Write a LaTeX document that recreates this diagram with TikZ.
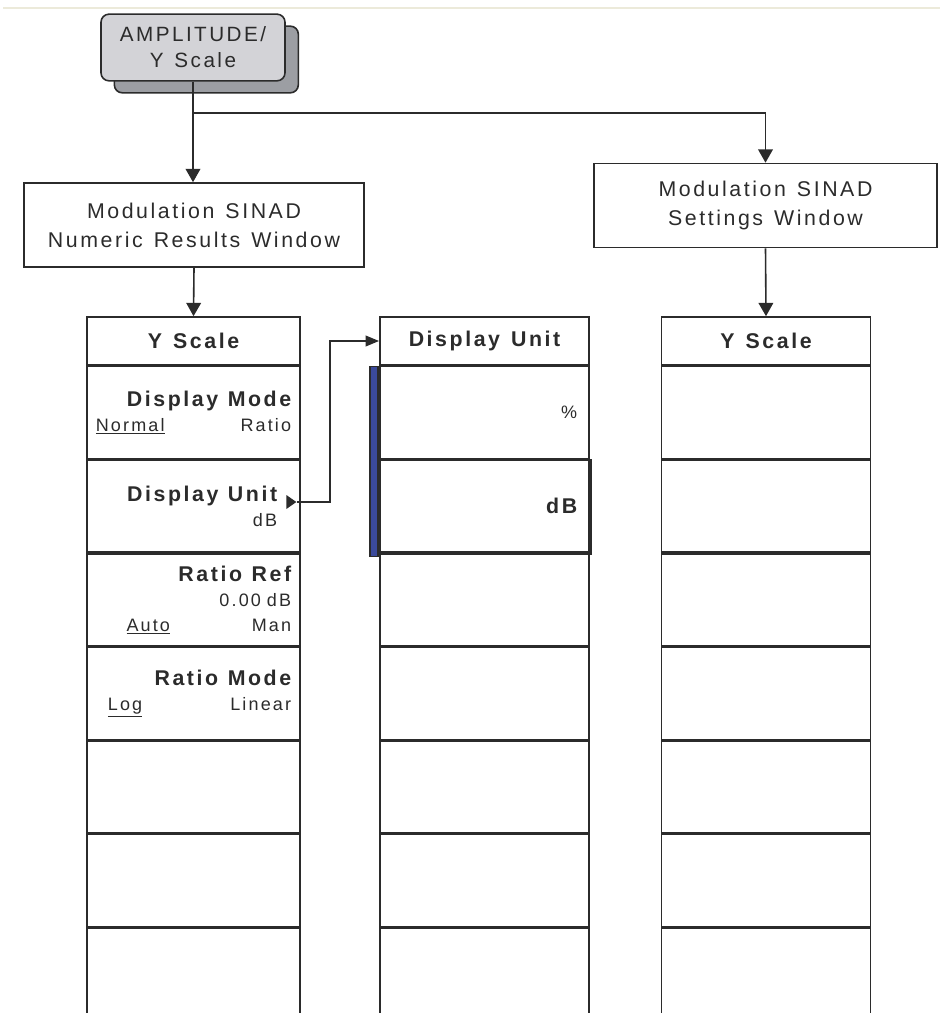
\documentclass[tikz,border=0pt]{standalone}
\usepackage{fontspec}
\setmainfont[LetterSpace=12, WordSpace=1.3]{Liberation Sans}
\usetikzlibrary{positioning,shapes.geometric,shadows,arrows.meta}

\definecolor{keyface}{HTML}{D3D3D7}
\definecolor{keyshade}{HTML}{9C9EA3}
\definecolor{ink}{HTML}{2B2B2B}
\definecolor{selbar}{HTML}{3B4A9B}
\definecolor{toprule}{HTML}{ECEADA}

\newcommand{\keytitle}[1]{{\fontsize{16}{18.75}\selectfont\bfseries\spaceskip=0.45em #1}}
\newcommand{\keychoice}[3]{\hbox to \hsize{\hspace*{#3}\underline{#1}\hfill #2}}

\begin{document}
\begin{tikzpicture}[x=0.75pt, y=-0.75pt,
        ln/.style={draw=ink, line width=1.2pt},
        hardkey/.style={ln, fill=keyface, rounded corners=6pt, minimum width=138pt, minimum height=50pt, align=center, text=ink,
            font=\fontsize{15.5}{19.5}\selectfont, copy shadow={shadow xshift=10pt, shadow yshift=-9pt, fill=keyshade, draw=ink}},
        window/.style={ln, minimum height=63pt, align=center, text=ink, font=\fontsize{16}{21.75}\selectfont},
        menuhead/.style={ln, minimum height=36pt, text=ink, font=\fontsize{16}{19}\selectfont\bfseries},
        softkey/.style={ln, minimum height=69pt, align=right, text=ink, font=\fontsize{13.5}{18.75}\selectfont},
        widekey/.style={minimum width=160pt, inner xsep=6.75pt, text width=146.5pt},
        narrowkey/.style={minimum width=157pt, inner xsep=9pt, text width=139pt},
        arrow/.style={ln, -{Triangle[length=10pt, width=11pt]}},
        smallarrow/.style={ln, -{Triangle[length=10pt, width=8pt]}},
        marker/.style={isosceles triangle, isosceles triangle stretches, fill=ink, inner sep=0pt, minimum width=10.5pt, minimum height=7.5pt}
    ]
    \useasboundingbox (0,0) rectangle (940,1013);

    % Rule at the top
    \draw[toprule, line width=1.5pt] (3,8) -- (940,8);

    % Front panel key
    \node[hardkey] (amp) at (193,47.5) {AMPLITUDE/\\Y Scale};

    % Windows
    \node[window, minimum width=255pt] (numwin) at (194,225) {Modulation SINAD\\Numeric Results Window};
    \node[window, minimum width=257pt] (setwin) at (765.5,205.5) {Modulation SINAD\\Settings Window};

    % Left menu
    \node[menuhead, minimum width=160pt] (lhead) at (193.5,341) {Y Scale};
    \node[softkey, widekey, below=0pt of lhead] (lkey1) {\keytitle{Display Mode}\\\keychoice{Normal}{Ratio}{0pt}};
    \node[softkey, widekey, below=0pt of lkey1] (lkey2) {\keytitle{Display Unit}\kern10.5pt\\dB\kern10.5pt};
    \node[softkey, widekey, below=0pt of lkey2] (lkey3) {\keytitle{Ratio Ref}\\0.00 dB\\\keychoice{Auto}{Man}{23pt}};
    \node[softkey, widekey, below=0pt of lkey3] (lkey4) {\keytitle{Ratio Mode}\\\keychoice{Log}{Linear}{9pt}};
    \foreach \i [remember=\i as \p (initially 4)] in {5,6,7}
        \node[softkey, widekey, below=0pt of lkey\p] (lkey\i) {};
    \node[marker] (mark) at (290,502) {};

    % Middle menu
    \node[menuhead, minimum width=157pt] (dhead) at (484.5,341) {Display Unit};
    \node[softkey, narrowkey, below=0pt of dhead] (dkey1) {\%};
    \node[softkey, narrowkey, below=0pt of dkey1] (dkey2) {\keytitle{dB}};
    \foreach \i [remember=\i as \p (initially 2)] in {3,...,7}
        \node[softkey, narrowkey, below=0pt of dkey\p] (dkey\i) {};
    \node[ln, fill=selbar, minimum width=6pt, minimum height=142.5pt, inner sep=0pt, anchor=north east] (dbar) at (dkey1.north west) {};
    \draw[draw=ink, line width=2.4pt] (dkey2.north east) -- (dkey2.south east) -- (dkey2.south west);

    % Right menu
    \node[menuhead, minimum width=157pt, alias=rkey0] (rhead) at (766,341) {Y Scale};
    \foreach \i [remember=\i as \p (initially 0)] in {1,...,7}
        \node[softkey, narrowkey, below=0pt of rkey\p] (rkey\i) {};

    % Connectors
    \coordinate (split) at (193,113);
    \draw[ln] (amp.south) -- (split);
    \draw[arrow] (split) -- (split |- numwin.north);
    \draw[arrow] (split) -| (setwin.north);
    \draw[arrow] (numwin.south) -- (lhead.north);
    \draw[arrow] (setwin.south) -- (rhead.north);
    \draw[smallarrow] (mark.east) -- ++(33,0) |- (dhead.west);

\end{tikzpicture}
\end{document}
